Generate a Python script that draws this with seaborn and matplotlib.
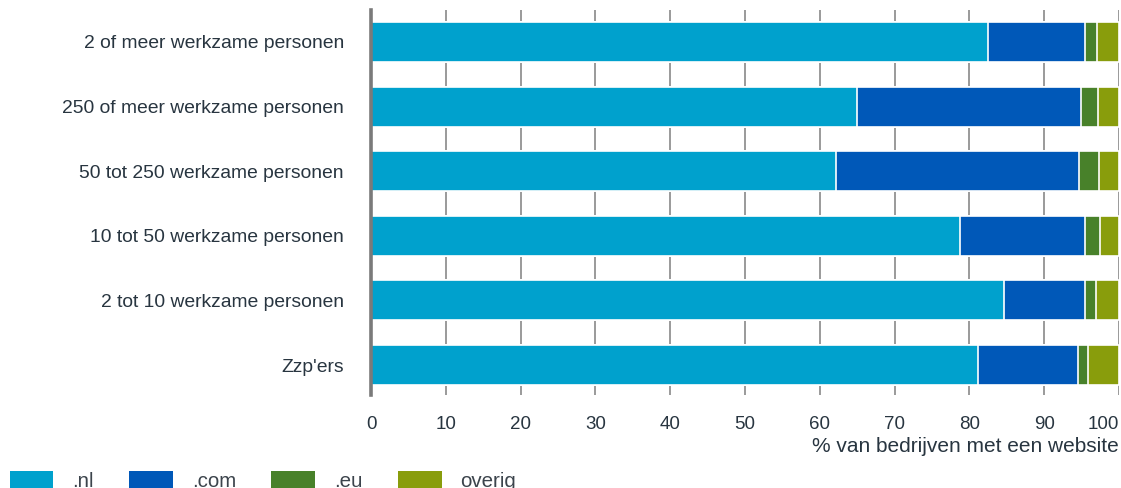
import matplotlib
matplotlib.use("Agg")
import matplotlib.pyplot as plt
import seaborn as sns
import pandas as pd
from matplotlib.patches import Patch

# Share of company websites per domain extension, by company size (%)
categories = [
    "2 of meer werkzame personen",
    "250 of meer werkzame personen",
    "50 tot 250 werkzame personen",
    "10 tot 50 werkzame personen",
    "2 tot 10 werkzame personen",
    "Zzp'ers",
]
series_names = [".nl", ".com", ".eu", "overig"]
nl = [82.5, 65.0, 62.2, 78.7, 84.6, 81.1]
com = [12.9, 29.9, 32.5, 16.7, 10.8, 13.4]
eu = [1.6, 2.3, 2.6, 2.1, 1.5, 1.4]
overig = [3.0, 2.8, 2.7, 2.5, 3.1, 4.1]
x_ticks = [0, 10, 20, 30, 40, 50, 60, 70, 80, 90, 100]
x_label = "% van bedrijven met een website"

colors = ["#00a1cd", "#0058b8", "#48812a", "#899d0c"]
text_color = "#283540"

sns.set_theme(style="white")
plt.rcParams["font.family"] = ["Liberation Sans", "DejaVu Sans"]

df = pd.DataFrame({"categorie": categories, ".nl": nl, ".com": com, ".eu": eu, "overig": overig})
cum = df[series_names].cumsum(axis=1)
cum["categorie"] = df["categorie"]

fig = plt.figure(figsize=(11.21, 4.88), dpi=100)
ax = fig.add_axes([371 / 1121, 1 - 395 / 488, 748 / 1121, 385 / 488])

# Stacked bars: draw cumulative totals from the outermost segment inwards
for name, col in reversed(list(zip(series_names, colors))):
    sns.barplot(data=cum, x=name, y="categorie", order=categories, color=col,
                orient="h", width=0.62, saturation=1, errorbar=None,
                edgecolor="white", linewidth=1.2, ax=ax, zorder=3)

ax.set_xlim(0, 100)
ax.set_ylim(5.464, -0.495)
for v in x_ticks[1:]:
    ax.axvline(v, color="#9a9a9a", lw=1.4, zorder=1)
for s in ["top", "right", "bottom"]:
    ax.spines[s].set_visible(False)
ax.spines["left"].set_color("#7a7a7a")
ax.spines["left"].set_linewidth(2.6)
ax.spines["left"].set_zorder(5)

ax.set_xticks(x_ticks)
ax.set_xticklabels([str(t) for t in x_ticks])
ax.tick_params(axis="x", length=0, pad=15, labelsize=13.5, labelcolor=text_color)
ax.tick_params(axis="y", length=0, pad=19.5, labelsize=13.9, labelcolor=text_color)
# keep the last tick label inside the figure
last = ax.get_xticklabels()[-1]
last.set_horizontalalignment("right")
last.set_x(100)
ax.set_ylabel("")
ax.set_xlabel(x_label, loc="right", fontsize=15.0, color=text_color, labelpad=3)

handles = [Patch(facecolor=c, edgecolor="none") for c in colors]
fig.legend(handles, series_names, loc="upper left", bbox_to_anchor=(0.0085, 1 - 471 / 488),
           ncol=4, frameon=False, fontsize=14.8, handlelength=2.13, handleheight=1.0,
           handletextpad=0.92, columnspacing=1.72, borderpad=0, borderaxespad=0,
           labelcolor="#3c444c")

fig.savefig("out.png", dpi=100)
